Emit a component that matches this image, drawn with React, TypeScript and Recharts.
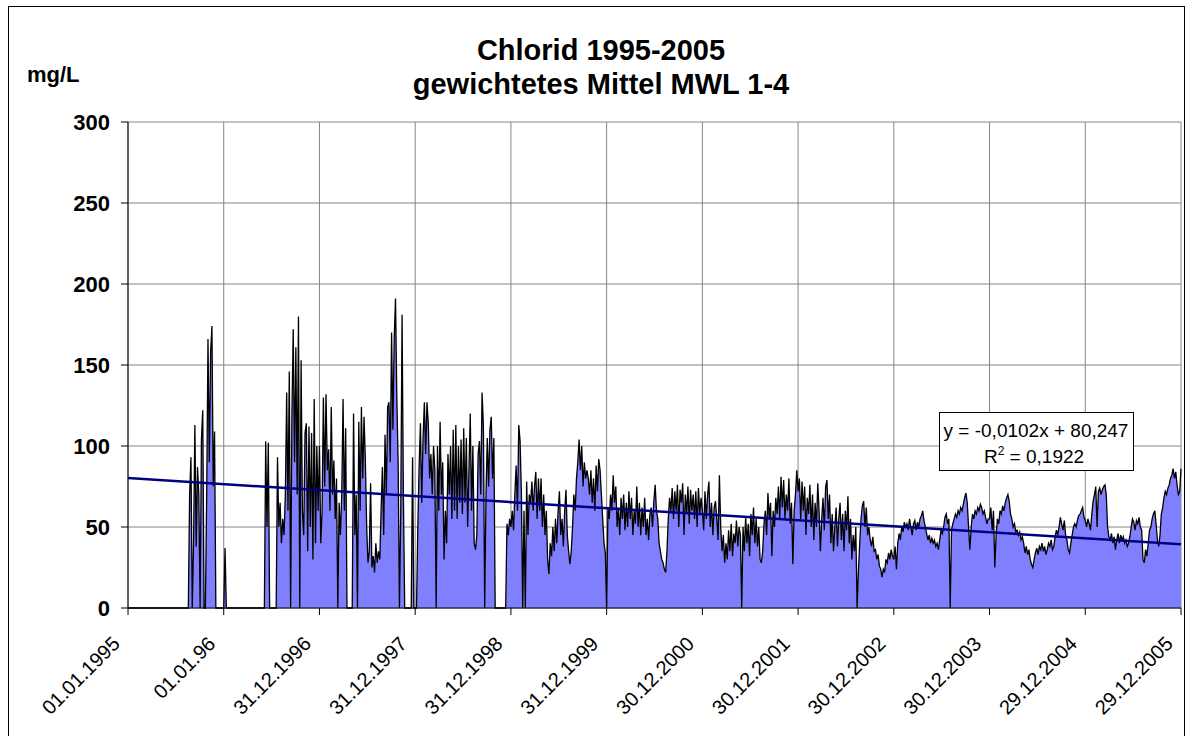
import React from "react";
import {
  AreaChart,
  Area,
  XAxis,
  YAxis,
  CartesianGrid,
  ReferenceLine
} from "recharts";

// chloride, mg/L, one value every 5 days, one list per year (73 values each)
const chl1995 = [
  0, 0, 0, 0, 0, 0, 0, 0, 0, 0, 0, 0, 0, 0, 0, 0, 0, 0, 0, 0,
  0, 0, 0, 0, 0, 0, 0, 0, 0, 0, 0, 0, 0, 0, 0, 0, 0, 0, 0, 0,
  0, 0, 0, 0, 0, 0, 0,
  70, 93, 0, 40, 113, 38, 87, 70, 0, 104, 122, 0, 0, 70, 166, 90, 158, 174, 75, 109,
  0, 0, 0, 0, 0, 0
];
const chl1996 = [
  0, 37,
  0, 0, 0, 0, 0, 0, 0, 0, 0, 0, 0, 0, 0, 0, 0, 0, 0, 0, 0, 0, 0, 0, 0, 0, 0, 0, 0, 0, 0, 0,
  103, 50, 102,
  0, 0, 0, 0, 0, 0,
  93, 50, 65, 40, 55, 45, 70, 133, 60, 146, 0, 120, 172, 90, 161, 70, 180, 0, 153, 60,
  45, 108, 114, 35, 112, 50, 108, 30, 129, 40, 100, 60
];
const chl1997 = [
  100, 40, 60, 130, 75, 132, 85, 98, 60, 124,
  70, 91, 55, 80, 0, 65, 45, 70, 129, 60,
  111, 0, 0, 0, 0, 0, 120, 45, 70, 0,
  115, 60, 124, 80, 118, 91, 50, 28, 35, 77,
  25, 32, 22, 40, 28, 35, 30, 60, 87, 45,
  107, 70, 124, 127, 90, 170, 110, 166, 191, 130,
  90, 0, 60, 181, 70, 0, 0, 0, 0, 0,
  0, 93, 0
];
const chl1998 = [
  0, 0, 50, 87, 114, 65, 105, 127, 95, 127,
  114, 80, 95, 70, 100, 85, 0, 100, 60, 115,
  70, 90, 30, 60, 40, 95, 70, 100, 55, 110,
  60, 113, 55, 100, 65, 104, 58, 111, 65, 105,
  50, 85, 120, 60, 100, 40, 36, 45, 95, 103,
  70, 133, 113, 0, 70, 105, 75, 110, 118, 80,
  105, 0, 0, 0, 0, 0, 0, 0, 0, 0,
  52, 45, 55
];
const chl1999 = [
  50, 60, 48, 70, 88, 60, 113, 103, 70, 0,
  60, 0, 78, 45, 70, 65, 78, 60, 75, 84,
  55, 80, 60, 80, 50, 70, 45, 60, 30, 21,
  40, 32, 50, 35, 55, 40, 60, 72, 45, 55,
  38, 60, 73, 45, 35, 27, 35, 50, 70, 60,
  80, 90, 104, 85, 100, 75, 90, 80, 85, 80,
  70, 85, 65, 80, 60, 88, 72, 92, 85, 70,
  55, 40, 34
];
const chl2000 = [
  0, 62, 55, 70, 60, 82, 65, 75, 50, 62,
  45, 68, 55, 70, 48, 65, 50, 72, 55, 68,
  45, 60, 52, 75, 50, 65, 45, 62, 50, 68,
  45, 55, 42, 58, 62, 50, 66, 76, 60, 55,
  40, 35, 30, 28, 24, 22, 35, 55, 68, 60,
  74, 55, 72, 60, 76, 50, 73, 65, 77, 45,
  70, 58, 75, 52, 73, 60, 70, 55, 72, 50,
  74, 58, 68
];
const chl2001 = [
  60, 48, 72, 55, 70, 78, 50, 65, 45, 62,
  66, 55, 42, 82, 50, 35, 45, 28, 40, 30,
  48, 35, 52, 32, 46, 40, 54, 38, 50, 45,
  0, 50, 35, 56, 40, 52, 32, 58, 45, 62,
  40, 55, 38, 50, 30, 28, 35, 52, 60, 45,
  71, 55, 65, 32, 60, 50, 68, 58, 75, 55,
  81, 62, 79, 55, 70, 60, 80, 52, 65, 27,
  60, 70, 85
];
const chl2002 = [
  72, 80, 55, 78, 60, 75, 45, 68, 58, 76,
  50, 70, 42, 65, 50, 77, 60, 35, 55, 68,
  48, 75, 79, 55, 70, 40, 58, 35, 50, 62,
  38, 55, 65, 42, 58, 35, 60, 48, 69, 40,
  55, 30, 45, 35, 50, 0, 23, 40, 55, 63,
  66, 50, 62, 45, 50, 42, 38, 44, 35, 36,
  30, 33, 26, 24, 19, 24, 22, 30, 28, 34,
  30, 36, 32
];
const chl2003 = [
  30, 38, 24, 40, 46, 42, 50, 47, 53, 50,
  52, 48, 55, 50, 45, 52, 54, 48, 53, 50,
  55, 57, 60, 54, 50, 46, 42, 45, 40, 43,
  40, 42, 38, 40, 36, 42, 48, 46, 50, 56,
  58, 52, 55, 0, 48, 52, 55, 58, 56, 60,
  58, 62, 60, 64, 68, 71, 65, 50, 36, 50,
  58, 55, 60, 58, 62, 60, 64, 62, 58, 60,
  56, 52, 55
];
const chl2004 = [
  55, 62, 48, 60, 25, 45, 55, 52, 60, 58,
  63, 60, 65, 68, 70, 66, 58, 55, 50, 52,
  47, 48, 45, 47, 42, 44, 40, 34, 38, 33,
  36, 30, 27, 25, 30, 34, 37, 33, 38, 36,
  40, 35, 38, 33, 36, 40, 38, 42, 36, 38,
  44, 48, 45, 50, 56, 52, 48, 54, 45, 42,
  36, 34, 40, 45, 50, 52, 50, 54, 57, 58,
  60, 62, 56
];
const chl2005 = [
  54, 50, 55, 52, 48, 58, 66, 70, 75, 50,
  72, 74, 70, 73, 75, 76, 70, 50, 44, 42,
  46, 40, 44, 36, 42, 46, 40, 45, 42, 44,
  40, 42, 38, 40, 44, 50, 55, 53, 48, 54,
  52, 56, 50, 48, 30, 28, 36, 32, 40, 48,
  50, 55, 58, 60, 52, 42, 38, 45, 58, 62,
  68, 72, 70, 74, 76, 80, 82, 86, 80, 84,
  76, 70, 72
];
const lastValue = 86;

const yearSeries = [
  chl1995, chl1996, chl1997, chl1998, chl1999, chl2000,
  chl2001, chl2002, chl2003, chl2004, chl2005
];

const tickDays = [0, 365, 730, 1095, 1460, 1825, 2190, 2555, 2920, 3285, 3650, 4015];
const tickLabels = [
  "01.01.1995", "01.01.96", "31.12.1996", "31.12.1997", "31.12.1998", "31.12.1999",
  "30.12.2000", "30.12.2001", "30.12.2002", "30.12.2003", "29.12.2004", "29.12.2005"
];
const yTicks = [0, 50, 100, 150, 200, 250, 300];

// linear trend, read at both ends of the axis
const trendStart = 80.2;
const trendEnd = 39.3;

const data: { day: number; chlorid: number }[] = [];
yearSeries.forEach((vals, k) => {
  vals.forEach((v, i) => data.push({ day: k * 365 + i * 5, chlorid: v }));
});
data.push({ day: 4015, chlorid: lastValue });

const FONT = "'Liberation Sans', Arial, sans-serif";

const XTick = ({ x, y, payload }: any) => {
  const label = tickLabels[tickDays.indexOf(payload.value)];
  const ax = x - 7;
  const ay = y + 28;
  return (
    <text
      x={ax}
      y={ay}
      transform={`rotate(-45 ${ax} ${ay})`}
      textAnchor="end"
      fontSize={20}
      fontFamily={FONT}
      fill="#000"
    >
      {label}
    </text>
  );
};

const YTick = ({ x, y, payload }: any) => (
  <text
    x={x - 9}
    y={y + 8}
    textAnchor="end"
    fontSize={22}
    fontWeight="bold"
    fontFamily={FONT}
    fill="#000"
  >
    {payload.value}
  </text>
);

const App = () => {
  return (
    <div style={{ position: "relative", width: 1187, height: 736, background: "#fff" }}>
      <style>{"body{margin:0}"}</style>
      <div style={{ position: "absolute", left: 0, top: 0 }}>
        <AreaChart
          width={1187}
          height={736}
          data={data}
          margin={{ top: 122, right: 6, bottom: 28, left: 0 }}
        >
          <CartesianGrid stroke="#858585" />
          <XAxis
            type="number"
            dataKey="day"
            domain={[0, 4015]}
            ticks={tickDays}
            interval={0}
            height={100}
            tickSize={7}
            stroke="#000"
            tick={<XTick />}
          />
          <YAxis
            type="number"
            domain={[0, 300]}
            ticks={yTicks}
            interval={0}
            width={128}
            tickSize={7}
            stroke="#000"
            tick={<YTick />}
          />
          <Area
            type="linear"
            dataKey="chlorid"
            stroke="#000"
            strokeWidth={1.3}
            fill="#8080ff"
            fillOpacity={1}
            dot={false}
            activeDot={false}
            isAnimationActive={false}
          />
          <ReferenceLine
            segment={[
              { x: 0, y: trendStart },
              { x: 4015, y: trendEnd }
            ]}
            stroke="#000080"
            strokeWidth={2.5}
          />
        </AreaChart>
      </div>
      <svg
        width={1187}
        height={736}
        style={{ position: "absolute", left: 0, top: 0, pointerEvents: "none" }}
      >
        <rect x={8.5} y={6.5} width={1176} height={740} fill="none" stroke="#000" strokeWidth={1} />
        <text x={601} y={60} textAnchor="middle" fontSize={29} fontWeight="bold" fontFamily={FONT}>
          Chlorid 1995-2005
        </text>
        <text x={601} y={94} textAnchor="middle" fontSize={29} fontWeight="bold" fontFamily={FONT}>
          gewichtetes Mittel MWL 1-4
        </text>
        <text x={27} y={82} fontSize={22} fontWeight="bold" fontFamily={FONT}>
          mg/L
        </text>
        <rect x={939.5} y={412.5} width={194} height={58} fill="#fff" stroke="#000" strokeWidth={1} />
        <text x={1036} y={437} textAnchor="middle" fontSize={19} fontFamily={FONT}>
          y = -0,0102x + 80,247
        </text>
        <text x={1034} y={463} textAnchor="middle" fontSize={19} fontFamily={FONT}>
          R<tspan fontSize={12} dy={-8}>2</tspan>
          <tspan dy={8}> = 0,1922</tspan>
        </text>
      </svg>
    </div>
  );
};

export default App;
